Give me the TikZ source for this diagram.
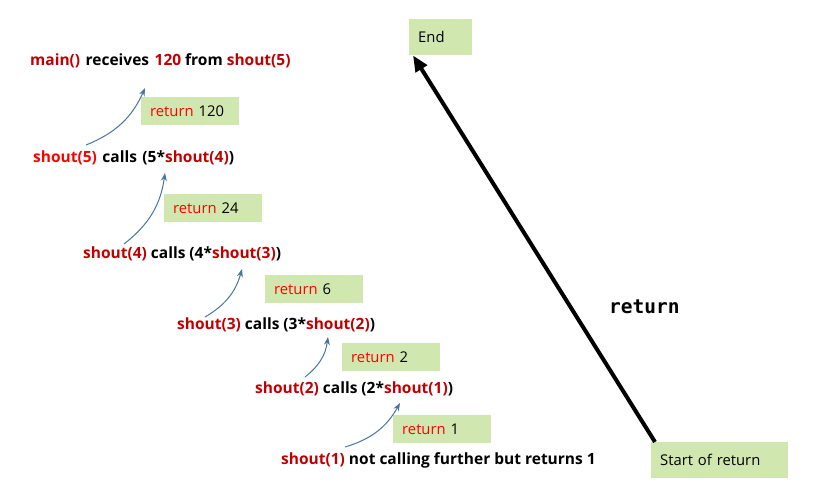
\documentclass[tikz,border=0pt]{standalone}
\usepackage{fontspec}
\setmainfont{Open Sans}
\newfontfamily\monofnt{DejaVu Sans Mono}
\usetikzlibrary{arrows.meta}
\definecolor{boxgreen}{HTML}{D0E8B0}
\definecolor{dred}{HTML}{C00000}
\definecolor{bred}{HTML}{FF0000}
\definecolor{arrblue}{HTML}{4A74A0}
\tikzset{
  line/.style={anchor=west, inner sep=0pt, font=\fontsize{15.5}{18}\selectfont\bfseries},
  retbox/.style={fill=boxgreen, anchor=north west, minimum height=28pt, inner xsep=9pt, inner ysep=0pt, text width=80pt, align=left, font=\fontsize{14.8}{17}\selectfont},
  callarrow/.style={draw=arrblue, line width=1pt, -{Stealth[length=8pt,width=6pt]}, bend right=22},
}
\begin{document}
\begin{tikzpicture}[x=1pt,y=-1pt]
\useasboundingbox (0,0) rectangle (821,483);
% text lines
\node[line] (l0) at (30,61) {\textcolor{dred}{main()}\hspace{1.5pt} receives\hspace{1.5pt} \textcolor{dred}{120} from \textcolor{dred}{shout(5)}};
\node[line] (l1) at (33,158) {\textcolor{bred}{shout(5)}\hspace{1.5pt} calls\hspace{1.5pt} (5*\textcolor{dred}{shout(4)})};
\node[line] (l2) at (83,254) {\textcolor{dred}{shout(4)} calls (4*\textcolor{dred}{shout(3)})};
\node[line] (l3) at (177,325) {\textcolor{dred}{shout(3)} calls (3*\textcolor{dred}{shout(2)})};
\node[line] (l4) at (255,389) {\textcolor{dred}{shout(2)} calls (2*\textcolor{dred}{shout(1)})};
\node[line] (l5) at (281,460) {\textcolor{dred}{shout(1)} not calling further but returns 1};
% green boxes
\node[retbox] (r120) at (141,97) {\textcolor{bred}{return} 120};
\node[retbox] (r24) at (164,194) {\textcolor{bred}{return} 24};
\node[retbox] (r6) at (265,275) {\textcolor{bred}{return} 6};
\node[retbox] (r2) at (342,343) {\textcolor{bred}{return} 2};
\node[retbox] (r1) at (393,415) {\textcolor{bred}{return} 1};
\node[retbox, text width=45pt, minimum height=36pt] (endb) at (409,19) {End};
\node[retbox, text width=119pt, minimum height=36pt] (startb) at (651,442) {Start of return};
\node[anchor=west, inner sep=0pt, font=\monofnt\fontsize{19.5}{22}\selectfont\bfseries] (retlbl) at (609,307) {return};
% blue arrow endpoints
\coordinate (s1) at (86,145);  \coordinate (t1) at (145,88);
\coordinate (s2) at (124,244); \coordinate (t2) at (165,173);
\coordinate (s3) at (205,317); \coordinate (t3) at (242,269);
\coordinate (s4) at (305,377); \coordinate (t4) at (328,337);
\coordinate (s5) at (345,447); \coordinate (t5) at (400,403);
\draw[callarrow] (s1) to (t1);
\draw[callarrow] (s2) to (t2);
\draw[callarrow] (s3) to (t3);
\draw[callarrow] (s4) to (t4);
\draw[callarrow] (s5) to (t5);
% big return arrow
\draw[line width=4pt, -{Triangle[length=16pt,width=13pt]}] ([xshift=4pt]startb.north west) -- ([xshift=4pt]endb.south west);
\end{tikzpicture}
\end{document}
